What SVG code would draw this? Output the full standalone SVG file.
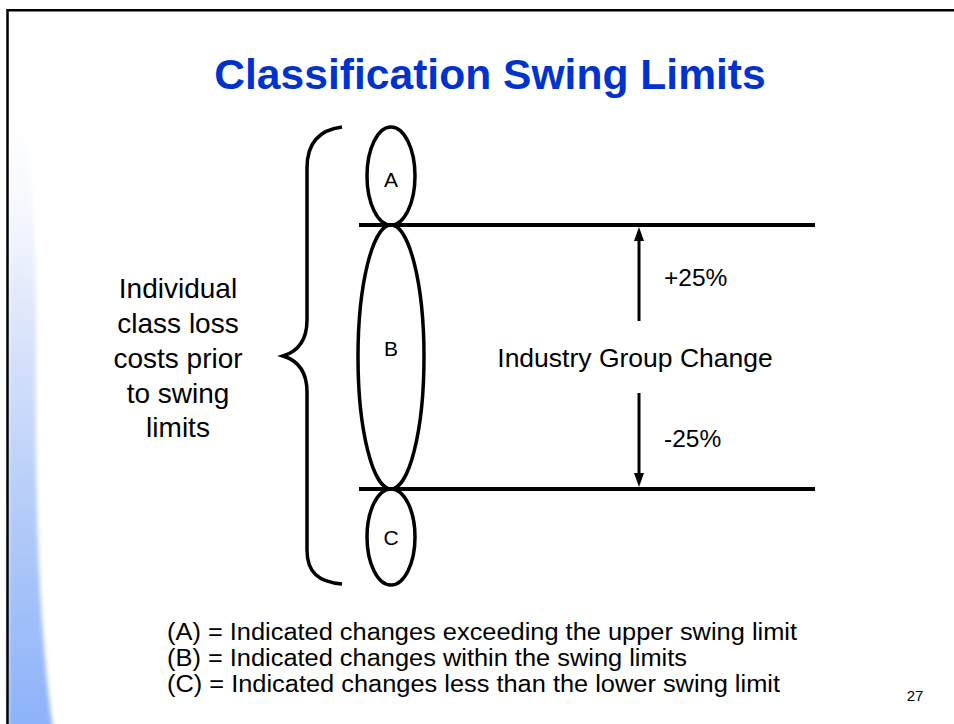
<svg xmlns="http://www.w3.org/2000/svg" width="954" height="724" viewBox="0 0 954 724">
<defs>
<style>
.t{font-family:"Liberation Sans",Arial,sans-serif;fill:#000}
.e{fill:none;stroke:#000;stroke-width:3.5}
.h{stroke:#000;stroke-width:4}
.a{stroke:#000;stroke-width:3}
</style>
<linearGradient id="bg" x1="0" y1="80" x2="0" y2="724" gradientUnits="userSpaceOnUse">
<stop offset="0" stop-color="#ffffff" stop-opacity="0"/>
<stop offset="0.35" stop-color="#e0e8fb"/>
<stop offset="0.7" stop-color="#b0c9f8"/>
<stop offset="1" stop-color="#8db3fa"/>
</linearGradient>
<filter id="bl" x="-0.5" y="-0.1" width="2" height="1.2"><feGaussianBlur stdDeviation="2"/></filter>
<marker id="ah" viewBox="0 0 14 10" refX="8" refY="5" markerWidth="14" markerHeight="10" markerUnits="userSpaceOnUse" orient="auto">
<path d="M0,0 L14,5 L0,10 Z" fill="#000"/>
</marker>
</defs>
<rect width="954" height="724" fill="#fff"/>
<path d="M8,80 C28,95 37,200 36,350 C35,500 38,620 53,730 L8,730 Z" fill="url(#bg)" filter="url(#bl)"/>
<path d="M7.5,724 L7.5,10.3 L954,10.3" fill="none" stroke="#000" stroke-width="2.5"/>
<text id="title" x="490" y="89" text-anchor="middle" class="t" style="font-size:42.6px;font-weight:bold;fill:#0033cc">Classification Swing Limits</text>
<g id="brace"><path d="M342,127 C318,130 307,145 307,168 L307,320 C307,342 296,352 283,356 C296,360 307,370 307,392 L307,550 C307,572 318,582 342,584" fill="none" stroke="#000" stroke-width="3.5"/></g>
<g id="left-label"><text class="t" text-anchor="middle" style="font-size:28px"><tspan x="178" y="298">Individual</tspan><tspan x="178" y="333">class loss</tspan><tspan x="178" y="368">costs prior</tspan><tspan x="178" y="403">to swing</tspan><tspan x="178" y="437">limits</tspan></text></g>
<g id="lines"><line class="h" x1="359" y1="225" x2="815" y2="225"/><line class="h" x1="359" y1="489" x2="815" y2="489"/></g>
<g id="A"><ellipse class="e" cx="391" cy="176" rx="24" ry="49"/><text class="t" x="391" y="187" text-anchor="middle" style="font-size:21px">A</text></g>
<g id="B"><ellipse class="e" cx="391" cy="357" rx="33" ry="132"/><text class="t" x="391" y="356" text-anchor="middle" style="font-size:21px">B</text></g>
<g id="C"><ellipse class="e" cx="391" cy="537" rx="24" ry="48"/><text class="t" x="391" y="545" text-anchor="middle" style="font-size:21px">C</text></g>
<g id="connectors">
<line class="a" x1="639" y1="321" x2="639" y2="233" marker-end="url(#ah)"/>
<line class="a" x1="639" y1="393" x2="639" y2="481" marker-end="url(#ah)"/>
</g>
<text class="t" x="664" y="286" style="font-size:24.5px">+25%</text>
<text class="t" x="664" y="447" style="font-size:24.5px">-25%</text>
<text id="igc" class="t" x="635" y="367" text-anchor="middle" style="font-size:26.5px">Industry Group Change</text>
<g id="legend"><text class="t" style="font-size:23.3px" lengthAdjust="spacingAndGlyphs">
<tspan x="167" y="640" textLength="630" lengthAdjust="spacingAndGlyphs">(A) = Indicated changes exceeding the upper swing limit</tspan>
</text><text class="t" style="font-size:23.3px"><tspan x="167" y="666" textLength="520" lengthAdjust="spacingAndGlyphs">(B) = Indicated changes within the swing limits</tspan></text>
<text class="t" style="font-size:23.3px"><tspan x="167" y="692" textLength="613" lengthAdjust="spacingAndGlyphs">(C) = Indicated changes less than the lower swing limit</tspan></text></g>
<text class="t" x="915" y="701" text-anchor="middle" style="font-size:15px">27</text>
</svg>
